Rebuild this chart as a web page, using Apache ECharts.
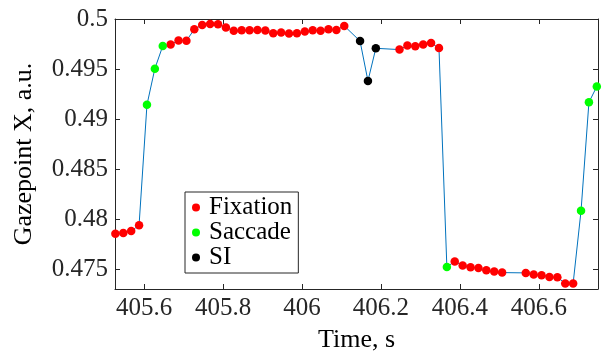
<!DOCTYPE html>
<html>
<head>
<meta charset="utf-8">
<script src="https://cdn.jsdelivr.net/npm/echarts@6/dist/echarts.min.js"></script>
<style>
  html, body { margin: 0; padding: 0; background: #fff; }
  #chart { width: 602px; height: 358px; }
</style>
</head>
<body>
<div id="chart"></div>
<script>
// gaze samples (time in s, gazepoint X in a.u.) and the event class of each sample
const times = [
  405.527, 405.547, 405.567, 405.587, 405.607, 405.627, 405.647, 405.667, 405.687, 405.707,
  405.727, 405.747, 405.767, 405.787, 405.807, 405.827, 405.847, 405.867, 405.887, 405.907,
  405.927, 405.947, 405.967, 405.987, 406.007, 406.027, 406.047, 406.067, 406.087, 406.107,
  406.147, 406.167, 406.187,
  406.247, 406.267, 406.287, 406.307, 406.327, 406.347, 406.367, 406.387, 406.407, 406.427,
  406.447, 406.467, 406.487, 406.507,
  406.567, 406.587, 406.607, 406.627, 406.647, 406.667, 406.687, 406.707, 406.727, 406.747
];
const gazeX = [
  0.47852, 0.47859, 0.47879, 0.47938, 0.49142, 0.49503, 0.49730, 0.49746, 0.49786, 0.49783,
  0.49897, 0.49941, 0.49951, 0.49947, 0.49914, 0.49882, 0.49888, 0.49888, 0.49891, 0.49885,
  0.49858, 0.49865, 0.49855, 0.49858, 0.49875, 0.49888, 0.49882, 0.49897, 0.49891, 0.49931,
  0.49779, 0.49381, 0.49707,
  0.49694, 0.49734, 0.49727, 0.49746, 0.49759, 0.49710, 0.47520, 0.47576, 0.47534, 0.47517,
  0.47510, 0.47487, 0.47474, 0.47464,
  0.47461, 0.47445, 0.47438, 0.47421, 0.47418, 0.47356, 0.47356, 0.48082, 0.49167, 0.49325
];
const eventClass = [
  'F', 'F', 'F', 'F', 'S', 'S', 'S', 'F', 'F', 'F',
  'F', 'F', 'F', 'F', 'F', 'F', 'F', 'F', 'F', 'F',
  'F', 'F', 'F', 'F', 'F', 'F', 'F', 'F', 'F', 'F',
  'I', 'I', 'I',
  'F', 'F', 'F', 'F', 'F', 'F', 'S', 'F', 'F', 'F',
  'F', 'F', 'F', 'F',
  'F', 'F', 'F', 'F', 'F', 'F', 'F', 'S', 'S', 'S'
];
const classes = [
  { key: 'F', name: 'Fixation', color: '#ff0000' },
  { key: 'S', name: 'Saccade', color: '#00ff00' },
  { key: 'I', name: 'SI', color: '#000000' }
];
const xTicks = [405.6, 405.8, 406, 406.2, 406.4, 406.6];
const yTicks = [0.475, 0.48, 0.485, 0.49, 0.495, 0.5];

const AXIS_COLOR = '#262626';
const FONT = '"Liberation Serif", "Times New Roman", serif';

const chart = echarts.init(document.getElementById('chart'));

const baseAxis = (ticks) => ({
  axisLine: { show: true, onZero: false, lineStyle: { color: AXIS_COLOR, width: 1 } },
  axisTick: { show: true, inside: true, length: 5, customValues: ticks, lineStyle: { color: AXIS_COLOR } },
  splitLine: { show: false },
});

const linePoints = times.map((t, i) => [t, gazeX[i]]);

chart.setOption({
  animation: false,
  grid: { left: 115, right: 4, top: 19, bottom: 65 },
  legend: {
    orient: 'vertical',
    left: 185,
    top: 192,
    padding: [3, 6, 3, 7],
    itemWidth: 8,
    itemHeight: 8,
    itemGap: 0,
    backgroundColor: '#fff',
    borderColor: AXIS_COLOR,
    borderWidth: 1,
    borderRadius: 0,
    textStyle: { fontFamily: FONT, fontSize: 25, color: '#000', lineHeight: 23.5, padding: [0, 0, 0, 4] },
    data: classes.map((c) => ({ name: c.name, icon: 'circle' })),
  },
  xAxis: [
    {
      ...baseAxis(xTicks),
      type: 'value',
      min: 405.526,
      max: 406.75,
      name: 'Time, s',
      nameLocation: 'middle',
      nameGap: 38,
      nameTextStyle: { fontFamily: FONT, fontSize: 26, color: '#000' },
      axisLabel: { customValues: xTicks, margin: 7, fontFamily: FONT, fontSize: 25, color: AXIS_COLOR },
    },
    {
      ...baseAxis(xTicks),
      type: 'value',
      position: 'top',
      min: 405.526,
      max: 406.75,
      axisLabel: { show: false },
    },
  ],
  yAxis: [
    {
      ...baseAxis(yTicks),
      type: 'value',
      min: 0.473,
      max: 0.5,
      name: 'Gazepoint X, a.u.',
      nameLocation: 'middle',
      nameGap: 78,
      nameTextStyle: { fontFamily: FONT, fontSize: 26, color: '#000' },
      axisLabel: { customValues: yTicks, margin: 7, fontFamily: FONT, fontSize: 25, color: AXIS_COLOR },
    },
    {
      ...baseAxis(yTicks),
      type: 'value',
      position: 'right',
      min: 0.473,
      max: 0.5,
      axisLabel: { show: false },
    },
  ],
  series: [
    {
      type: 'line',
      data: linePoints,
      showSymbol: false,
      symbol: 'none',
      lineStyle: { color: '#0072BD', width: 1 },
      silent: true,
      z: 1,
    },
    ...classes.map((c) => ({
      type: 'scatter',
      name: c.name,
      symbol: 'circle',
      symbolSize: 8.5,
      clip: false,
      itemStyle: { color: c.color, opacity: 1 },
      data: linePoints.filter((p, i) => eventClass[i] === c.key),
      z: 2,
    })),
  ],
});
</script>
</body>
</html>
